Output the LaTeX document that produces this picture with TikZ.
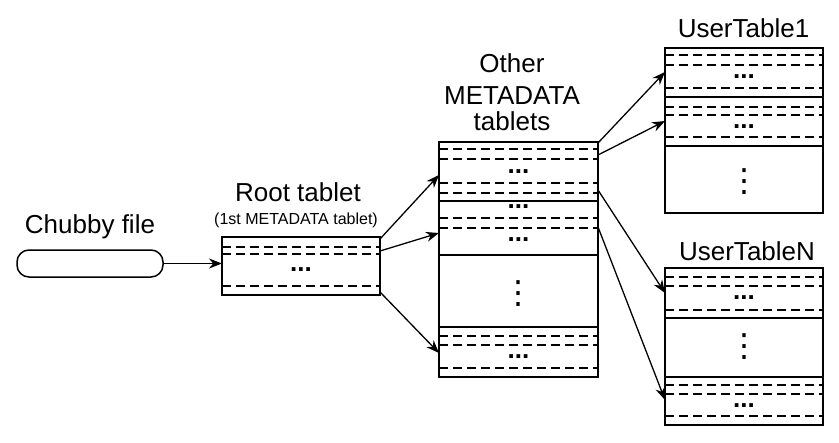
\documentclass[tikz,border=0pt]{standalone}
\usepackage{fontspec}
\setmainfont{Liberation Sans}
\newfontfamily\dvsfont{DejaVu Sans}
\usetikzlibrary{arrows.meta,calc}
\begin{document}
\begin{tikzpicture}[x=0.5pt,y=-0.5pt,
  box/.style={draw, line width=0.75pt, minimum width=79pt, outer sep=0pt, inner sep=0pt},
  sline/.style={line width=0.75pt},
  dline/.style={line width=0.7pt, dash pattern=on 4.5pt off 2.5pt},
  lbl/.style={font=\fontsize{13}{15}\selectfont, anchor=base, inner sep=0pt},
  sublbl/.style={font=\fontsize{8}{10}\selectfont, anchor=base, inner sep=0pt},
  hd/.style={font=\fontsize{13}{15}\selectfont\bfseries, inner sep=0pt, anchor=center},
  vd/.style={font=\fontsize{16}{18}\selectfont\dvsfont, inner sep=0pt, anchor=center},
  arr/.style={line width=0.65pt, -{Stealth[length=6.5pt,width=5pt]}}]
\useasboundingbox (0,0) rectangle (839,443);

% boxes
\node[draw, line width=0.75pt, rounded corners=6pt, minimum width=73pt, minimum height=13.5pt, outer sep=0pt, inner sep=0pt] (chubby) at (90,263.5) {};
\node[box, minimum height=29pt] (root) at (301,266) {};
\node[box, minimum width=79.5pt, minimum height=117.5pt] (other) at (518.5,259.5) {};
\node[box, minimum height=82.5pt] (ut1) at (744,130.5) {};
\node[box, minimum height=78.5pt] (utN) at (744,346.5) {};

% labels
\node[lbl] (lchubby) at (90,233) {Chubby file};
\node[lbl] (lroot) at (298,202) {Root tablet};
\node[sublbl] (lrootsub) at (296,224) {(1st METADATA tablet)};
\node[lbl] (lother1) at (512,73) {Other};
\node[lbl] (lother2) at (512,105) {METADATA};
\node[lbl] (lother3) at (512,131) {tablets};
\node[lbl] (lut1) at (743.5,38) {UserTable1};
\node[lbl] (lutN) at (747,260) {UserTableN};

% root tablet interior
\foreach \d in {10,17,49}
  \draw[dline] ($(root.north west)+(0,\d)$) -- ($(root.north east)+(0,\d)$);
\node[hd] (rdots) at ($(root.north)+(0,33)$) {...};

% other metadata interior
\foreach \d in {59,113,185}
  \draw[sline] ($(other.north west)+(0,\d)$) -- ($(other.north east)+(0,\d)$);
\foreach \d in {7,17,41,51,76,86,194,203,226}
  \draw[dline] ($(other.north west)+(0,\d)$) -- ($(other.north east)+(0,\d)$);
\foreach \d/\n in {30/a,65/b,98/c,215/d}
  \node[hd] (odots\n) at ($(other.north)+(0,\d)$) {...};
\node[vd] (ovdots) at ($(other.north)+(0,152)$) {⋮};

% UserTable1 interior
\foreach \d in {49,98}
  \draw[sline] ($(ut1.north west)+(0,\d)$) -- ($(ut1.north east)+(0,\d)$);
\foreach \d in {7,17,40,59,67,89}
  \draw[dline] ($(ut1.north west)+(0,\d)$) -- ($(ut1.north east)+(0,\d)$);
\foreach \d/\n in {29/a,79/b}
  \node[hd] (u1dots\n) at ($(ut1.north)+(0,\d)$) {...};
\node[vd] (u1vdots) at ($(ut1.north)+(0,134)$) {⋮};

% UserTableN interior
\foreach \d in {50,109}
  \draw[sline] ($(utN.north west)+(0,\d)$) -- ($(utN.north east)+(0,\d)$);
\foreach \d in {9,18,42,117,126,148}
  \draw[dline] ($(utN.north west)+(0,\d)$) -- ($(utN.north east)+(0,\d)$);
\foreach \d/\n in {30/a,138/b}
  \node[hd] (uNdots\n) at ($(utN.north)+(0,\d)$) {...};
\node[vd] (uNvdots) at ($(utN.north)+(0,79)$) {⋮};

% connectors
\draw[arr] (chubby.east) -- (chubby.east -| root.west);
\draw[arr] ($(root.north east)+(0,2)$) -- ($(other.north west)+(0,33)$);
\draw[arr] ($(root.north east)+(0,14)$) -- ($(other.north west)+(0,91)$);
\draw[arr] ($(root.south east)+(0,-3)$) -- ($(other.north west)+(0,211)$);
\draw[arr] ($(other.north east)+(0,1)$) -- ($(ut1.north west)+(0,24)$);
\draw[arr] ($(other.north east)+(0,13)$) -- ($(ut1.north west)+(0,73)$);
\draw[arr] ($(other.north east)+(0,48)$) -- ($(utN.north west)+(0,25)$);
\draw[arr] ($(other.north east)+(0,85)$) -- ($(utN.north west)+(0,132)$);
\end{tikzpicture}
\end{document}
